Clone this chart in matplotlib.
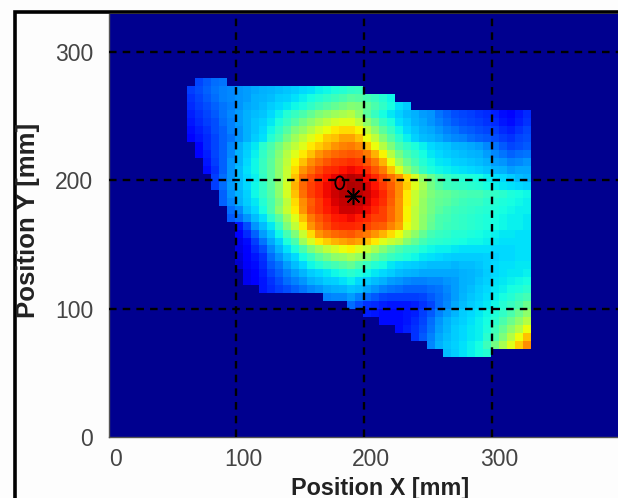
import numpy as np
from matplotlib import pyplot as plt
from matplotlib.patches import Ellipse, Rectangle
from matplotlib.transforms import ScaledTranslation

plt.rcParams['font.family'] = ['Liberation Sans', 'DejaVu Sans']

# grid of the map, in mm
x_start = 61.5
y_top = 279.8
cell_x = 6.25
cell_y = 6.22
n_cols = 43

# first filled column of each row, rows run from the top of the map down
row_start = [1, 0, 0, 0, 0, 0, 0, 0, 1, 1, 2, 2, 3, 3, 4, 4, 5, 5,
             6, 6, 6, 6, 6, 6, 7, 7, 9, 17, 20, 22, 24, 26, 28, 30, 32]

# values, 0-100 on the colour scale
row_values = [
    [20, 22, 24, 25],
    [19, 21, 23, 25, 26, 27, 28, 29, 30, 31, 32, 33, 34, 35, 37, 38, 40, 41, 43, 44, 46, 47],
    [18, 20, 22, 24, 26, 27, 28, 29, 31, 32, 33, 35, 36, 38, 40, 42, 44, 46, 48, 50, 52, 51, 49, 47, 44, 41],
    [17, 19, 21, 23, 25, 26, 28, 30, 31, 33, 35, 37, 39, 41, 43, 46, 49, 51, 53, 55, 57, 56, 53, 50, 46, 42, 38, 35],
    [16, 18, 20, 22, 25, 27, 29, 31, 33, 34, 37, 40, 44, 47, 50, 53, 56, 58, 60, 61, 62, 58, 52, 47, 42, 39, 36, 33, 31, 29, 28, 25, 23, 21, 20, 19, 18, 17, 16, 14, 13, 15, 17],
    [15, 17, 19, 21, 24, 26, 29, 31, 34, 36, 39, 43, 47, 51, 55, 58, 61, 63, 65, 66, 66, 63, 58, 53, 47, 43, 38, 35, 32, 30, 28, 26, 24, 22, 21, 20, 19, 18, 17, 15, 14, 16, 18],
    [14, 16, 18, 21, 23, 26, 28, 31, 34, 37, 41, 46, 51, 56, 59, 62, 65, 67, 69, 70, 70, 68, 63, 58, 52, 47, 41, 37, 34, 31, 30, 28, 26, 25, 23, 22, 21, 20, 19, 17, 16, 18, 20],
    [13, 15, 17, 20, 23, 25, 28, 31, 35, 38, 44, 49, 55, 60, 63, 66, 68, 71, 72, 74, 74, 72, 67, 63, 57, 51, 45, 40, 36, 33, 32, 30, 28, 27, 26, 24, 23, 22, 21, 19, 18, 20, 21],
    [13, 17, 20, 23, 27, 31, 35, 39, 45, 50, 55, 60, 63, 66, 69, 71, 73, 75, 77, 78, 76, 72, 67, 62, 56, 50, 46, 43, 40, 37, 35, 34, 32, 31, 30, 29, 27, 25, 22, 20, 21, 22],
    [12, 16, 20, 23, 27, 32, 36, 40, 46, 51, 57, 62, 66, 69, 72, 75, 78, 80, 81, 82, 81, 78, 73, 68, 62, 55, 50, 46, 42, 39, 37, 35, 34, 33, 32, 31, 29, 27, 25, 23, 24, 25],
    [15, 19, 23, 28, 32, 37, 41, 47, 52, 58, 63, 68, 72, 76, 79, 82, 84, 85, 86, 85, 82, 78, 73, 67, 60, 54, 49, 44, 41, 39, 38, 36, 35, 34, 33, 31, 29, 28, 26, 27, 28],
    [14, 18, 23, 28, 33, 38, 41, 47, 52, 58, 64, 70, 75, 79, 83, 86, 87, 89, 90, 89, 86, 82, 78, 72, 66, 59, 53, 47, 43, 41, 40, 39, 38, 37, 36, 34, 32, 31, 29, 30, 30],
    [19, 24, 28, 33, 37, 40, 46, 52, 58, 64, 72, 79, 83, 86, 89, 91, 93, 95, 94, 90, 87, 83, 79, 75, 70, 65, 59, 54, 50, 47, 45, 44, 43, 42, 40, 38, 37, 35, 33, 32],
    [19, 24, 29, 33, 37, 41, 46, 52, 58, 65, 73, 80, 84, 87, 90, 92, 94, 96, 95, 92, 89, 85, 81, 76, 71, 66, 61, 55, 51, 48, 47, 46, 45, 44, 42, 40, 39, 38, 37, 36],
    [23, 28, 32, 36, 41, 46, 51, 58, 65, 72, 79, 84, 87, 90, 93, 95, 96, 95, 93, 90, 87, 82, 76, 69, 64, 60, 56, 54, 53, 51, 50, 49, 49, 47, 46, 45, 43, 42, 41],
    [23, 27, 31, 35, 39, 44, 50, 56, 63, 70, 76, 81, 85, 89, 92, 94, 95, 94, 92, 89, 86, 81, 75, 69, 64, 59, 55, 53, 52, 50, 48, 47, 47, 45, 44, 43, 42, 41, 40],
    [24, 27, 33, 37, 42, 50, 58, 64, 69, 75, 82, 85, 88, 90, 93, 93, 92, 90, 87, 84, 80, 75, 68, 63, 59, 55, 52, 50, 48, 47, 46, 45, 44, 43, 42, 41, 40, 40],
    [22, 24, 28, 33, 38, 45, 52, 60, 66, 72, 78, 82, 85, 88, 89, 90, 88, 87, 84, 84, 80, 75, 68, 63, 58, 54, 50, 49, 47, 46, 45, 44, 43, 42, 41, 40, 40, 39],
    [15, 21, 28, 33, 39, 47, 56, 63, 69, 75, 80, 83, 86, 87, 87, 86, 84, 82, 81, 77, 74, 67, 63, 58, 53, 50, 48, 47, 46, 45, 44, 43, 42, 41, 40, 40, 39],
    [12, 17, 23, 29, 34, 41, 49, 56, 64, 70, 75, 78, 80, 81, 82, 80, 78, 75, 73, 70, 67, 62, 58, 53, 49, 47, 46, 44, 44, 43, 42, 41, 40, 39, 39, 38, 38],
    [10, 14, 19, 25, 30, 36, 43, 50, 60, 65, 69, 71, 73, 74, 75, 74, 72, 69, 66, 64, 62, 57, 53, 49, 46, 45, 44, 43, 42, 41, 41, 40, 39, 38, 38, 38, 38],
    [9, 13, 17, 21, 27, 32, 38, 43, 50, 56, 60, 63, 65, 67, 68, 66, 64, 61, 57, 53, 50, 47, 46, 43, 41, 40, 40, 39, 38, 38, 38, 38, 37, 37, 37, 38, 38],
    [8, 12, 15, 18, 24, 28, 33, 37, 42, 47, 52, 55, 58, 59, 61, 59, 57, 53, 50, 47, 45, 43, 41, 39, 38, 37, 36, 35, 35, 35, 35, 36, 36, 37, 37, 38, 38],
    [7, 11, 14, 17, 22, 25, 29, 33, 37, 41, 44, 47, 49, 51, 53, 50, 47, 44, 42, 39, 37, 36, 35, 34, 33, 33, 33, 32, 33, 33, 34, 36, 37, 38, 38, 39, 39],
    [10, 13, 16, 20, 23, 26, 29, 32, 35, 37, 39, 41, 43, 45, 43, 41, 39, 37, 35, 33, 32, 31, 30, 30, 30, 30, 30, 31, 32, 33, 35, 37, 38, 39, 39, 40],
    [10, 12, 15, 18, 21, 24, 26, 28, 31, 33, 35, 36, 38, 40, 37, 35, 33, 31, 29, 28, 27, 26, 26, 27, 27, 28, 29, 31, 32, 34, 36, 38, 39, 40, 41, 42],
    [15, 17, 19, 21, 23, 25, 27, 28, 30, 31, 32, 34, 33, 30, 28, 26, 25, 24, 23, 23, 23, 24, 25, 27, 29, 31, 33, 35, 37, 39, 40, 42, 43, 45],
    [26, 27, 27, 29, 26, 24, 22, 20, 19, 19, 19, 19, 20, 22, 24, 26, 29, 32, 34, 36, 38, 40, 42, 44, 47, 49],
    [24, 21, 18, 17, 16, 15, 15, 15, 16, 18, 20, 24, 27, 30, 33, 35, 37, 39, 41, 44, 47, 50, 54],
    [16, 15, 14, 14, 14, 15, 16, 19, 22, 26, 29, 32, 35, 37, 39, 41, 43, 46, 50, 54, 58],
    [14, 14, 14, 15, 17, 20, 24, 28, 31, 34, 36, 38, 40, 42, 45, 50, 54, 58, 62],
    [14, 16, 18, 21, 25, 29, 32, 35, 37, 39, 40, 43, 48, 53, 58, 62, 67],
    [18, 22, 26, 30, 33, 35, 37, 39, 40, 45, 50, 56, 62, 67, 72],
    [27, 31, 34, 36, 38, 40, 42, 48, 55, 61, 66, 71, 76],
    [33, 35, 38, 40, 42, 44],
]

# my first reading ran high in the green part of the scale, this corrects it
read_level = [0, 30, 40, 50, 60, 66, 75, 100]
true_level = [0, 29, 36, 44, 54, 62, 75, 100]

x_ticks = [0, 100, 200, 300]
y_ticks = [0, 100, 200, 300]
x_label = 'Position X [mm]'
y_label = 'Position Y [mm]'
circle_pos = (181, 198)
star_pos = (191, 188)

n_rows = len(row_values)
Z = np.zeros((n_rows, n_cols))
for r, vals in enumerate(row_values):
    s = row_start[r]
    Z[r, s:s + len(vals)] = vals[:n_cols - s]
Z = np.ma.masked_equal(np.interp(Z, read_level, true_level), 0)

x_edges = x_start + cell_x * np.arange(n_cols + 1)
y_edges = y_top - cell_y * np.arange(n_rows + 1)

W, H = 618, 498
fig = plt.figure(figsize=(W / 100, H / 100), dpi=100, facecolor='#fdfdfd')
ax = fig.add_axes([108.5 / W, 1 - 437 / H, (W - 108.5) / W, (437 - 14) / H])
ax.set_facecolor('#00008f')
ax.pcolormesh(x_edges, y_edges, Z, cmap='jet', vmin=0, vmax=100)
ax.set_xlim(0, 398.7)
ax.set_ylim(1.5, 329.5)

ax.set_xticks(x_ticks)
ax.set_yticks(y_ticks)
ax.grid(True, color='black', linewidth=1.7, linestyle=(0, (3.2, 2.6)))
ax.set_axisbelow(False)
# no grid line on the axes edge
ax.get_xgridlines()[0].set_visible(False)
ax.get_ygridlines()[0].set_visible(False)
ax.tick_params(length=0, labelsize=16.5, labelcolor='#444444')
ax.tick_params(axis='x', pad=8)
ax.tick_params(axis='y', pad=11)
# labels sit a bit to the right of the x ticks
for lab in ax.get_xticklabels():
    lab.set_transform(lab.get_transform() + ScaledTranslation(7 / 100, 0, fig.dpi_scale_trans))

for side in ['top', 'right']:
    ax.spines[side].set_visible(False)
for side in ['left', 'bottom']:
    ax.spines[side].set_color('#555555')
    ax.spines[side].set_linewidth(1.0)

ax.add_patch(Ellipse(circle_pos, 7, 10, fill=False, edgecolor='black', linewidth=1.3))
ax.plot(*star_pos, marker=(8, 2, 0), markersize=12, color='black', markeredgewidth=1.1)

fig.text(380 / W, 1 - 488 / H, x_label, fontsize=16.8, fontweight='bold', color='#222222',
         ha='center', va='center')
fig.text(28 / W, 1 - 220 / H, y_label, fontsize=18.5, fontweight='bold', color='#222222',
         ha='center', va='center', rotation=90)

# black window frame round the plot, runs off the right and bottom
fig.add_artist(Rectangle((14.5 / W, -0.1), 1, 1 - 12.5 / H + 0.1, transform=fig.transFigure,
                         fill=False, edgecolor='black', linewidth=2.6))

fig.savefig('out.png', dpi=100, facecolor=fig.get_facecolor())
